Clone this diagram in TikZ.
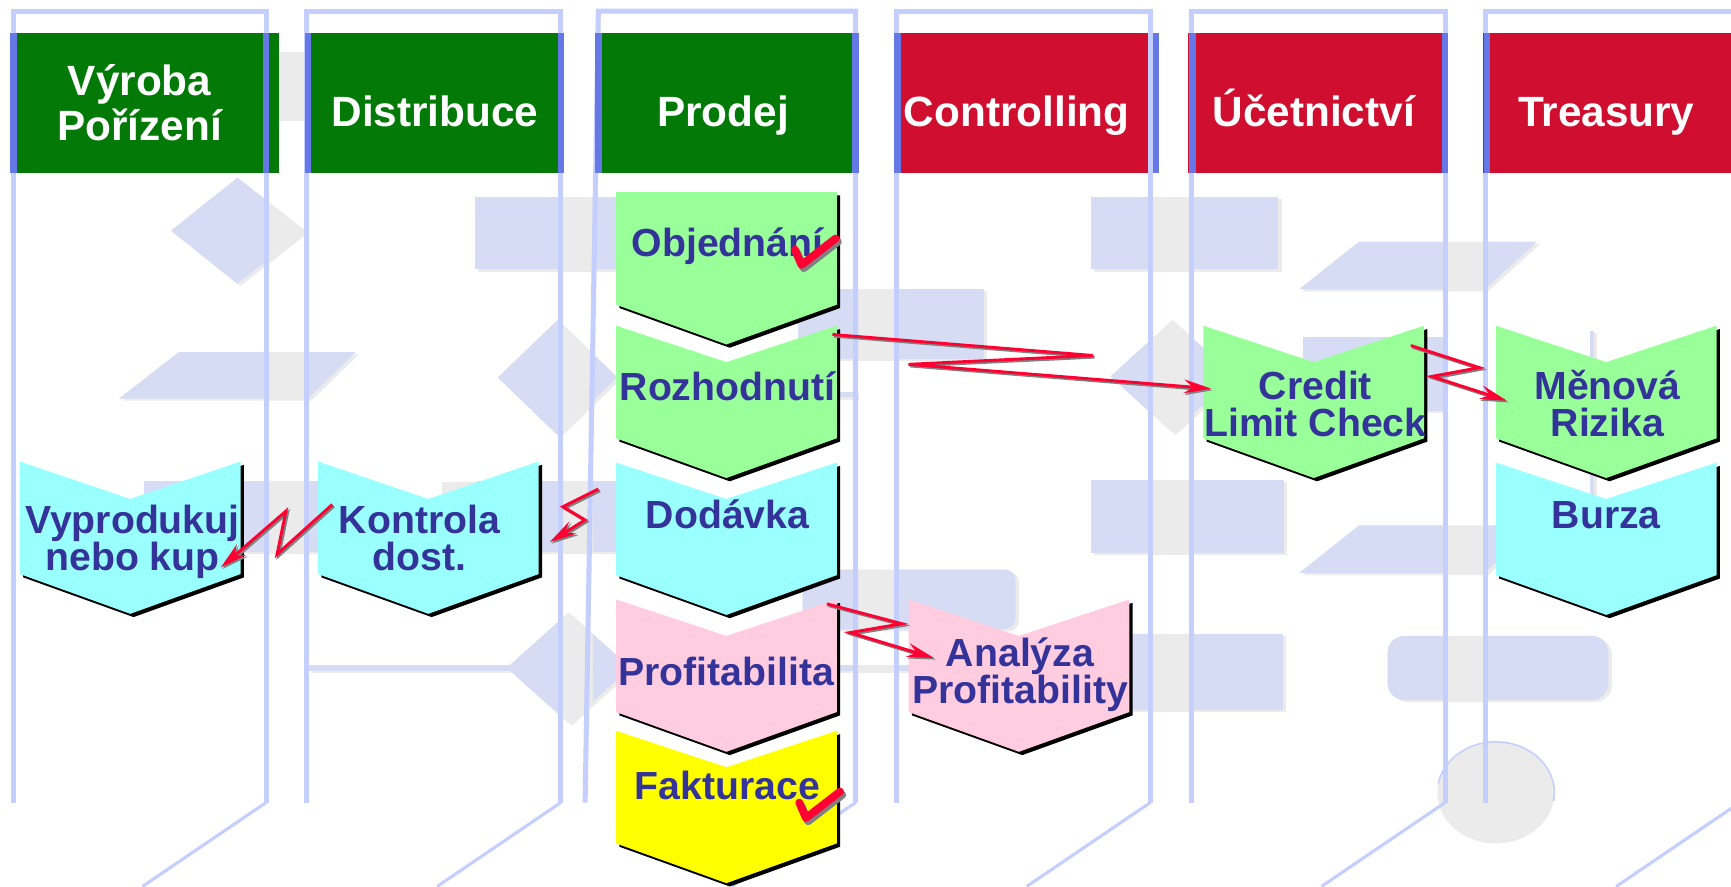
\documentclass[tikz,border=0pt]{standalone}
\usepackage{fontspec}
\setmainfont{Liberation Sans}
\usetikzlibrary{arrows.meta}
\definecolor{hdrgreen}{RGB}{3,122,7}
\definecolor{hdrred}{RGB}{207,14,48}
\definecolor{laneblue}{RGB}{197,207,254}
\definecolor{stripeblue}{RGB}{102,119,230}
\definecolor{bglav}{RGB}{214,220,244}
\definecolor{bggrey}{RGB}{235,235,235}
\definecolor{chgreen}{RGB}{153,255,153}
\definecolor{chcyan}{RGB}{153,255,255}
\definecolor{chpink}{RGB}{255,204,224}
\definecolor{chyellow}{RGB}{255,255,0}
\definecolor{txtblue}{RGB}{51,51,153}
\definecolor{zapred}{RGB}{255,0,51}

% step arrow: left x, top y, fill, depth of the top notch
\newcommand\chev[4]{%
  \fill[black] (#1+3,#2+3) -- (#1+103,#2+#4+3) -- (#1+203,#2+3) -- (#1+203,#2+105)
    -- (#1+103,#2+141) -- (#1+3,#2+105) -- cycle;
  \fill[#3] (#1,#2) -- (#1+100,#2+#4) -- (#1+200,#2) -- (#1+200,#2+102)
    -- (#1+100,#2+138) -- (#1,#2+102) -- cycle;}

% faded flow chart in the background
\newcommand\bgshapes[1]{%
  \fill[#1] (200,47) rectangle (330,108);
  \fill[#1] (155,209) -- (215,161) -- (276,209) -- (215,257) -- cycle;
  \fill[#1] (430,178) rectangle (640,244);
  \fill[#1] (723,262) rectangle (891,325);
  \fill[#1] (988,178) rectangle (1158,244);
  \fill[#1] (1177,262) -- (1231,219) -- (1392,219) -- (1345,262) -- cycle;
  \fill[#1] (108,361) -- (162,319) -- (322,319) -- (279,361) -- cycle;
  \fill[#1] (451,342) -- (505,290) -- (559,342) -- (505,394) -- cycle;
  \fill[#1] (1006,341) -- (1062,290) -- (1118,341) -- (1062,392) -- cycle;
  \fill[#1] (1180,305) rectangle (1307,372);
  \fill[#1] (130,436) rectangle (300,500);
  \fill[#1] (432,436) rectangle (560,500);
  \fill[#1] (988,435) rectangle (1163,501);
  \fill[#1] (1177,519) -- (1231,476) -- (1392,476) -- (1345,519) -- cycle;
  \fill[#1, rounded corners=2.8pt] (727,516) rectangle (920,570);
  \fill[#1] (990,574) rectangle (1162,643);
  \fill[#1, rounded corners=4.3pt] (1257,576) rectangle (1457,634);
  \fill[#1] (459,605) -- (515,555) -- (571,605) -- (515,655) -- cycle;
  \fill[#1] (279,602.5) rectangle (830,607.5);
  \fill[#1] (560,355) rectangle (775,360);
  \fill[#1] (1440,300) rectangle (1444,455);}

% red zigzag connector: from, first jump, second jump, to
\newcommand\zigzag[4]{%
  \draw[zapshade] (#1) -- ++(#2) -- ++(#3) -- (#4);
  \draw[zap] (#1) -- ++(#2) -- ++(#3) -- (#4);}

\tikzset{
  laneline/.style={draw=laneblue, line width=1.3pt},
  lanediag/.style={draw=laneblue, line width=0.8pt},
  hdtext/.style={anchor=base, inner sep=0pt, text=white, align=center,
    font=\fontsize{10.9}{11.6}\selectfont\bfseries},
  chtext/.style={anchor=base, inner sep=0pt, text=txtblue, align=center,
    font=\fontsize{10.1}{9.5}\selectfont\bfseries},
  zap/.style={draw=zapred, line width=0.75pt,
    -{Stealth[length=7pt,width=3.6pt,inset=2.4pt]}},
  zapshade/.style={zap, draw=gray, transform canvas={shift={(1.5,1.5)}}},
  tickmark/.style={draw=zapred, line width=2pt, line cap=round, line join=round},
}

\begin{document}
\begin{tikzpicture}[x=0.01cm, y=-0.01cm]
  \useasboundingbox (0,0) rectangle (1568,803);
  \fill[white] (0,0) rectangle (1568,803);
  \clip (0,0) rectangle (1568,803);

  \bgshapes{bggrey, shift={(3,2)}}
  \bgshapes{bggrey}
  \begin{scope}
    \clip (12,10) rectangle (241,727) (278,10) rectangle (508,727)
      (537,10) rectangle (775,727) (812,10) rectangle (1042,727)
      (1079,10) rectangle (1309,727) (1346,10) rectangle (1576,727);
    \bgshapes{bglav}
  \end{scope}
  \fill[bggrey] (400,437) rectangle (432,500);
  \fill[bggrey] (1355,718) ellipse [x radius=53, y radius=46];
  \draw[laneblue, line width=0.4pt] (1302.8,710) arc [start angle=190, end angle=370, x radius=53, y radius=46];

  % swim lanes
  \foreach \l/\lb/\r in {12/12/241, 278/278/508, 542/530/775, 812/812/1042, 1079/1079/1309, 1346/1346/1576}{
    \draw[laneline] (\lb,727) -- (\l,10) -- (\r,10) -- (\r,727);
    \draw[lanediag] (\r,727) -- ++(-112,76);
  }

  % lane headers
  \fill[hdrgreen] (10,30) rectangle (253,157);
  \fill[hdrgreen] (276,30) rectangle (510,157);
  \fill[hdrgreen] (542,30) rectangle (778,157);
  \fill[hdrred] (810,30) rectangle (1040,157);
  \fill[hdrred] (1076,30) rectangle (1311,157);
  \fill[hdrred] (1343,30) rectangle (1580,157);
  \foreach \x in {12,241,279,508,542,775,813,1047,1080,1309,1347}
    \draw[stripeblue, line width=1.7pt] (\x,30) -- (\x,157);
  \node[hdtext] (vyroba) at (126.5,127) {Výroba\\Pořízení};
  \node[hdtext] (distr) at (394,115) {Distribuce};
  \node[hdtext] (prodej) at (655,115) {Prodej};
  \node[hdtext] (contr) at (921,115) {Controlling};
  \node[hdtext] (ucet) at (1190,115) {Účetnictví};
  \node[hdtext] (treas) at (1455,115) {Treasury};

  % process steps
  \chev{558}{174}{chgreen}{0}
  \chev{558}{295}{chgreen}{33}
  \chev{558}{419}{chcyan}{33}
  \chev{558}{543}{chpink}{33}
  \chev{558}{662}{chyellow}{33}
  \chev{18}{418}{chcyan}{34}
  \chev{288}{418}{chcyan}{34}
  \chev{1090}{295}{chgreen}{33}
  \chev{1355}{295}{chgreen}{33}
  \chev{1355}{419}{chcyan}{33}
  \chev{823}{543}{chpink}{33}

  \node[chtext] (objed) at (659,232.5) {Objednání};
  \node[chtext] (rozhod) at (659,362.5) {Rozhodnutí};
  \node[chtext] (dodav) at (659,479) {Dodávka};
  \node[chtext] (profit) at (658,620.5) {Profitabilita};
  \node[chtext] (faktur) at (659,724.5) {Fakturace};
  \node[chtext] (vyprod) at (120,517) {Vyprodukuj\\nebo kup};
  \node[chtext] (kontr) at (380,517) {Kontrola\\dost.};
  \node[chtext] (credit) at (1191.5,395.5) {Credit\\Limit Check};
  \node[chtext] (menova) at (1456,395) {Měnová\\Rizika};
  \node[chtext] (burza) at (1455,479) {Burza};
  \node[chtext] (analyza) at (924,637) {Analýza\\Profitability};

  % flows between the steps
  \coordinate (rozhod-out) at (754,303);
  \coordinate (credit-in) at (1097,352);
  \coordinate (credit-out) at (1278,313);
  \coordinate (menova-in) at (1365,363);
  \coordinate (dodav-out) at (542,443);
  \coordinate (kontr-in) at (498,491);
  \coordinate (kontr-out) at (301,457);
  \coordinate (vyprod-in) at (200,514);
  \coordinate (profit-out) at (749,547);
  \coordinate (analyza-in) at (846,596);
  \zigzag{rozhod-out}{236,19}{-167,8}{credit-in}
  \zigzag{credit-out}{62,20}{-43,8}{menova-in}
  \zigzag{dodav-out}{-32,16}{20,12}{kontr-in}
  \zigzag{kontr-out}{-50,45}{8,-39}{vyprod-in}
  \zigzag{profit-out}{68,18}{-47,8}{analyza-in}

  % done marks
  \foreach \cx/\cy in {726/240, 730/741}{
    \draw[tickmark, draw=gray, shift={(2,3)}] (\cx-6,\cy-14) -- (\cx,\cy) -- ++(31,-24);
    \draw[tickmark] (\cx-6,\cy-14) -- (\cx,\cy) -- ++(31,-24);
  }
\end{tikzpicture}
\end{document}
